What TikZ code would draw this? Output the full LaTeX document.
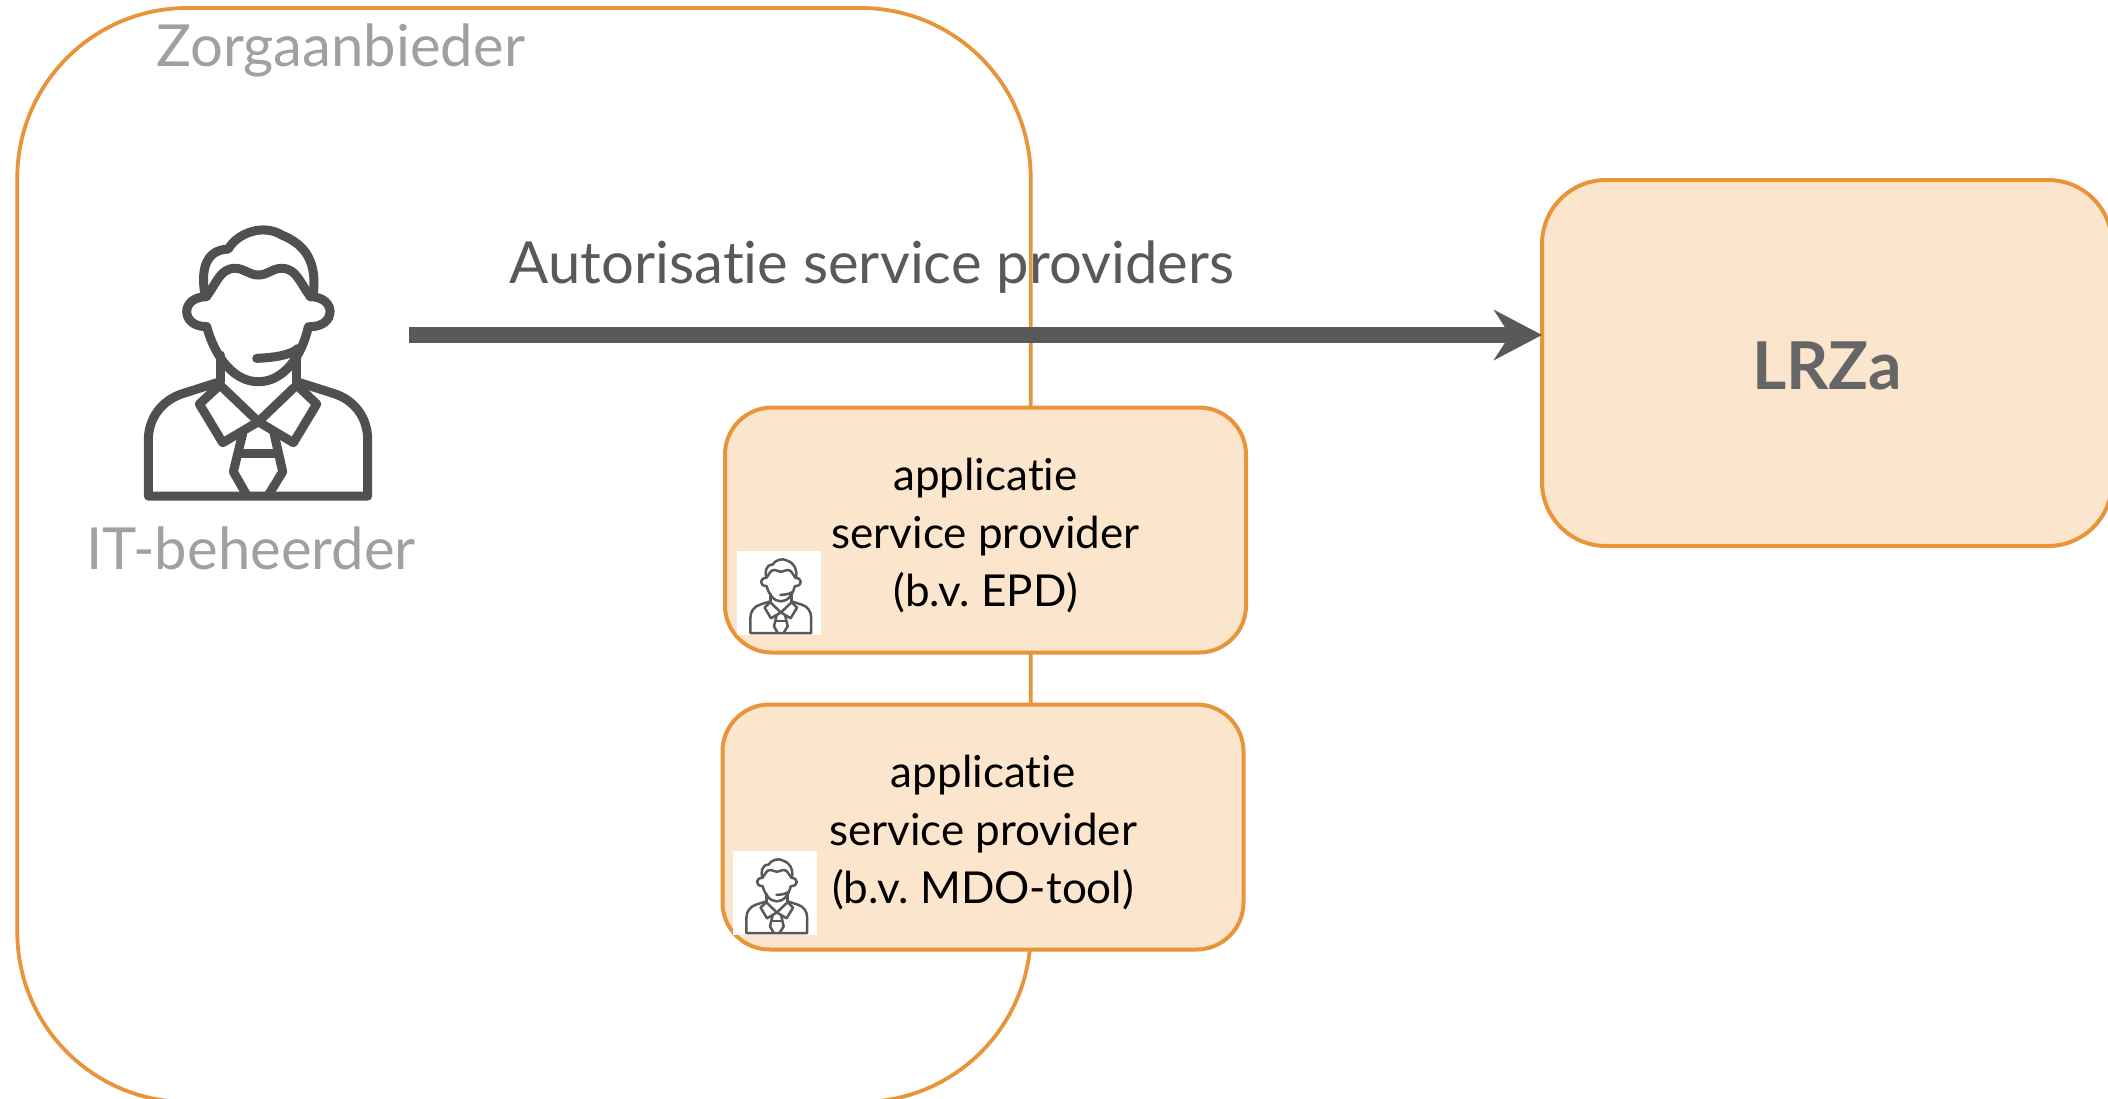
\documentclass[tikz,border=0pt]{standalone}
\usepackage{fontspec}
\setmainfont{Lato}[Ligatures={NoCommon}]
\usetikzlibrary{arrows.meta}
\definecolor{orangeline}{HTML}{E8943A}
\definecolor{orangefill}{HTML}{FCE5CD}
\definecolor{darkgrey}{HTML}{595959}
\definecolor{labelgrey}{HTML}{A0A0A0}
\definecolor{lrzgrey}{HTML}{666666}
\tikzset{
  px/.style={x=0.5pt,y=-0.5pt},
  box/.style={draw=orangeline,line width=2pt,fill=orangefill,rounded corners=23.5pt,inner sep=0pt,outer sep=0pt,align=center,text=black,font=\fontsize{22}{29}\selectfont\frenchspacing},
  grouprect/.style={draw=orangeline,line width=1.9pt,rounded corners=85pt,inner sep=0pt,outer sep=0pt},
  lbl/.style={text=labelgrey,inner sep=0pt,font=\fontsize{29}{36}\selectfont},
  flow/.style={draw=darkgrey,fill=darkgrey,line width=7.7pt,-{Stealth[length=24pt,width=25pt,inset=8pt]}},
  whitepatch/.style={fill=white,inner sep=0pt,outer sep=0pt,minimum width=42pt,minimum height=42pt},
  person/.pic={
    \begin{scope}[x=\pgfkeysvalueof{/tikz/iconunit},y=-\pgfkeysvalueof{/tikz/iconunit},line join=round,line cap=round]
    \draw (315,285) .. controls (305,230) and (305,150) .. (385,147)
      .. controls (410,100) and (490,70) .. (545,105)
      .. controls (620,135) and (650,190) .. (640,280);
    \draw (320,288) .. controls (350,250) and (360,205) .. (405,205)
      .. controls (435,205) and (445,225) .. (475,225)
      .. controls (505,225) and (515,205) .. (545,205)
      .. controls (590,205) and (600,250) .. (630,288);
    \draw (320,290) .. controls (240,290) and (240,380) .. (320,380);
    \draw (630,290) .. controls (710,290) and (710,380) .. (630,380);
    \draw (320,380) .. controls (345,470) and (400,545) .. (475,545)
      .. controls (550,545) and (605,470) .. (625,380);
    \draw (470,475) .. controls (530,472) and (570,465) .. (595,445);
    \draw (360,465) -- (360,545);
    \draw (590,465) -- (590,545);
    \draw (360,545) -- (250,580) .. controls (185,600) and (145,655) .. (145,720) -- (145,888) -- (803,888) -- (803,720) .. controls (803,655) and (765,600) .. (700,580) -- (590,545);
    \draw (360,555) -- (298,612) -- (368,728) -- (475,665) -- (360,555);
    \draw (590,555) -- (650,612) -- (580,728) -- (475,665) -- (590,555);
    \draw (428,700) -- (400,815) -- (440,885);
    \draw (522,700) -- (548,815) -- (505,885);
    \draw (420,760) -- (530,760);
    \end{scope}
  },
  iconunit/.initial=0.1667pt
}
\begin{document}
\begin{tikzpicture}[px]
\useasboundingbox (0,0) rectangle (2108,1098);
\node[grouprect,minimum width=506.7pt,minimum height=547pt] (zorg) at (524,555) {};
\node[lbl] (zorglabel) at (341,50) {Zorgaanbieder};
\node[box,rounded corners=32pt,minimum width=285pt,minimum height=183pt,font=\bfseries\fontsize{33}{40}\selectfont,text=lrzgrey] (lrza) at (1827,363) {\raisebox{-1.3pt}[\height][\depth]{LRZa}};
\node[box,minimum width=260.5pt,minimum height=122.5pt] (asp1) at (985.5,530) {\raisebox{-3.6pt}[\height][\depth]{\begin{tabular}{@{}c@{}}applicatie\\service provider\\(b.v. EPD)\end{tabular}}};
\node[box,minimum width=260.5pt,minimum height=122.5pt] (asp2) at (983,827) {\raisebox{-3.6pt}[\height][\depth]{\begin{tabular}{@{}c@{}}applicatie\\service provider\\(b.v. MDO-tool)\end{tabular}}};
\node[whitepatch] (patch1) at (779,593) {};
\node[whitepatch] (patch2) at (775,893) {};
\pic[draw=darkgrey!90!black,line width=4.5pt,iconunit=0.1667pt] (bigperson) at (100,200) {person};
\pic[draw=darkgrey,line width=1.25pt,iconunit=0.0462pt] (person1) at (737,551) {person};
\pic[draw=darkgrey,line width=1.25pt,iconunit=0.0462pt] (person2) at (733,851) {person};
\node[lbl] (itlabel) at (251,548) {IT-beheerder};
\node[text=darkgrey,inner sep=0pt,font=\fontsize{29}{34}\selectfont] (autlabel) at (872,267) {Autorisatie service providers};
\coordinate (flowstart) at (409,335);
\draw[flow] (flowstart) -- (flowstart -| lrza.west);
\end{tikzpicture}
\end{document}
